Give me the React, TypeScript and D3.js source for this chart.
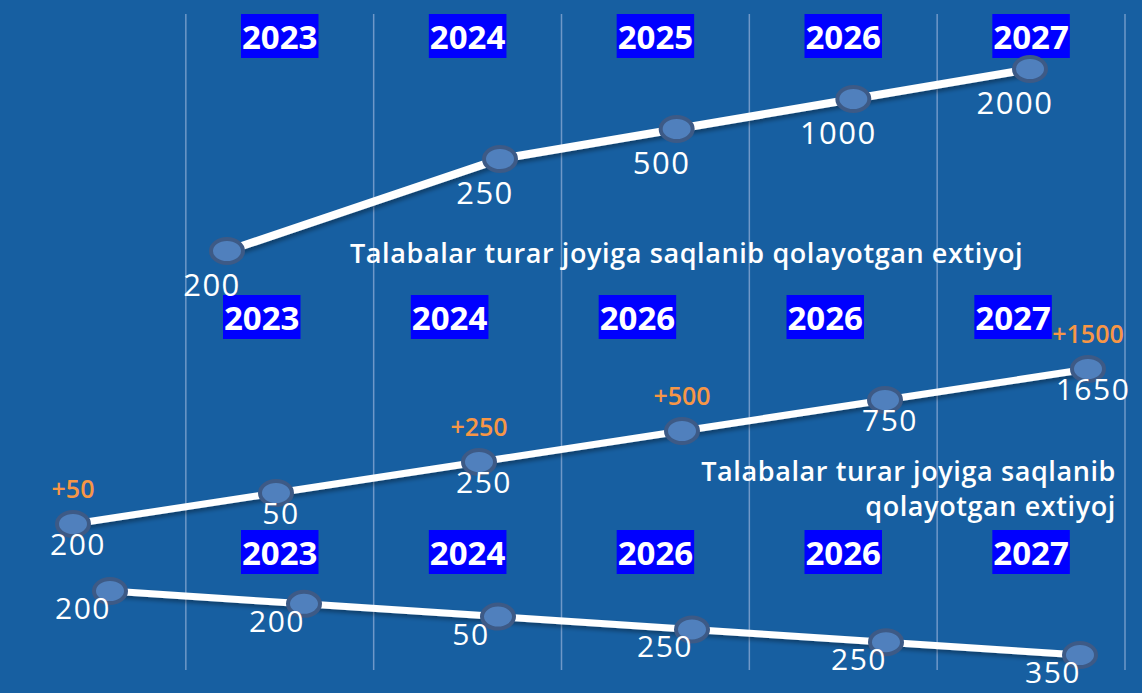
import React, { useRef, useEffect } from "react";
import * as d3 from "d3";

// year captions for each of the three panels
const topYears = ["2023", "2024", "2025", "2026", "2027"];
const midYears = ["2023", "2024", "2026", "2026", "2027"];
const lowYears = ["2023", "2024", "2026", "2026", "2027"];

// series values
const topValues = [200, 250, 500, 1000, 2000];
const midValues = [200, 50, 250, null, 750, 1650];
const midGains = [50, null, 250, 500, null, 1500];
const lowValues = [200, 200, 50, 250, 250, 350];

const caption = "Talabalar turar joyiga saqlanib qolayotgan extiyoj";
const captionLines = ["Talabalar turar joyiga saqlanib", "qolayotgan extiyoj"];

const columns = d3.range(6);

const App: React.FC = () => {
  const ref = useRef<SVGSVGElement | null>(null);

  useEffect(() => {
    if (!ref.current) return;
    const svg = d3.select(ref.current);
    svg.selectAll("*").remove();

    const width = 1142;
    const height = 693;
    const font = "'Open Sans', Lato, sans-serif";

    svg.attr("width", width).attr("height", height);

    const defs = svg.append("defs");
    defs
      .append("filter")
      .attr("id", "shadow")
      .attr("x", "-10%")
      .attr("y", "-50%")
      .attr("width", "120%")
      .attr("height", "200%")
      .append("feDropShadow")
      .attr("dx", 2)
      .attr("dy", 3)
      .attr("stdDeviation", 2)
      .attr("flood-color", "#000")
      .attr("flood-opacity", 0.35);

    svg.append("rect").attr("width", width).attr("height", height).attr("fill", "#175fa1");

    // column grid
    const col = d3.scaleBand<number>().domain(columns).range([-2, 1125]);
    svg
      .append("g")
      .selectAll("line")
      .data(columns)
      .join("line")
      .attr("x1", (d) => (col(d) || 0) + col.bandwidth())
      .attr("x2", (d) => (col(d) || 0) + col.bandwidth())
      .attr("y1", 14)
      .attr("y2", 670)
      .attr("stroke", "#6f98c8")
      .attr("stroke-width", 1.5);

    // year captions
    const yearRow = (years: string[], cy: number, shift: number) => {
      const g = svg.append("g");
      years.forEach((yr, i) => {
        const cx = (col(i + 1) || 0) + col.bandwidth() / 2 + shift;
        const item = g.append("g");
        const rect = item.append("rect").attr("fill", "#0000ff");
        const t = item
          .append("text")
          .attr("x", cx)
          .attr("y", cy)
          .attr("text-anchor", "middle")
          .attr("dominant-baseline", "central")
          .attr("font-family", font)
          .attr("font-weight", 700)
          .attr("font-size", 33)
          .attr("fill", "#fff")
          .text(yr);
        const b = (t.node() as SVGTextElement).getBBox();
        rect
          .attr("x", b.x - 1)
          .attr("y", cy - 22)
          .attr("width", b.width + 2)
          .attr("height", 44);
      });
    };
    yearRow(topYears, 36, 0);
    yearRow(midYears, 317, -18);
    yearRow(lowYears, 552, 0);

    type Pt = { i: number; v: number | null; gain?: number | null };

    const drawSeries = (
      pts: Pt[],
      x: d3.ScaleLinear<number, number>,
      y: d3.ScaleLinear<number, number>,
      lineWidth: number,
      label: { dx: number; dy: number; size: number }
    ) => {
      const g = svg.append("g");
      const line = d3
        .line<Pt>()
        .x((d) => x(d.i))
        .y((d) => y(d.i));
      g.append("path")
        .attr("d", line(pts) || "")
        .attr("fill", "none")
        .attr("stroke", "#fff")
        .attr("stroke-width", lineWidth)
        .attr("filter", "url(#shadow)");
      g.selectAll("ellipse")
        .data(pts)
        .join("ellipse")
        .attr("cx", (d) => x(d.i))
        .attr("cy", (d) => y(d.i))
        .attr("rx", 16)
        .attr("ry", 12)
        .attr("fill", "#5080bd")
        .attr("stroke", "#3d5a86")
        .attr("stroke-width", 4);
      g.selectAll("text.val")
        .data(pts.filter((d) => d.v !== null))
        .join("text")
        .attr("class", "val")
        .attr("x", (d) => x(d.i) + label.dx)
        .attr("y", (d) => y(d.i) + label.dy)
        .attr("text-anchor", "middle")
        .attr("font-family", font)
        .attr("font-weight", 500)
        .attr("font-size", label.size)
        .attr("letter-spacing", 1.5)
        .attr("fill", "#fff")
        .text((d) => String(d.v));
      g.selectAll("text.gain")
        .data(pts.filter((d) => d.gain != null))
        .join("text")
        .attr("class", "gain")
        .attr("x", (d) => x(d.i))
        .attr("y", (d) => y(d.i) - 26)
        .attr("text-anchor", "middle")
        .attr("font-family", font)
        .attr("font-weight", 600)
        .attr("font-size", 25)
        .attr("fill", "#f79646")
        .text((d) => "+" + d.gain);
    };

    // top panel: the first step climbs steeper than the rest
    drawSeries(
      topValues.map((v, i) => ({ i, v })),
      d3.scaleLinear().domain([0, 1, topValues.length - 1]).range([227, 500, 1030]),
      d3.scaleLinear().domain([0, 1, topValues.length - 1]).range([251, 159, 69]),
      8,
      { dx: -15, dy: 45, size: 31 }
    );

    drawSeries(
      midValues.map((v, i) => ({ i, v, gain: midGains[i] })),
      d3.scaleLinear().domain([0, midValues.length - 1]).range([73, 1088]),
      d3.scaleLinear().domain([0, midValues.length - 1]).range([524, 369]),
      7,
      { dx: 5, dy: 31, size: 30 }
    );

    drawSeries(
      lowValues.map((v, i) => ({ i, v })),
      d3.scaleLinear().domain([0, lowValues.length - 1]).range([110, 1080]),
      d3.scaleLinear().domain([0, lowValues.length - 1]).range([591, 655]),
      7,
      { dx: -27, dy: 28, size: 30 }
    );

    // captions
    svg
      .append("text")
      .attr("x", 350)
      .attr("y", 263)
      .attr("font-family", font)
      .attr("font-weight", 600)
      .attr("font-size", 27)
      .attr("letter-spacing", 0.6)
      .attr("fill", "#fff")
      .text(caption);

    svg
      .append("g")
      .selectAll("text")
      .data(captionLines)
      .join("text")
      .attr("x", 1116)
      .attr("y", (_, i) => 481 + i * 35)
      .attr("text-anchor", "end")
      .attr("font-family", font)
      .attr("font-weight", 600)
      .attr("font-size", 27)
      .attr("letter-spacing", 0.6)
      .attr("fill", "#fff")
      .text((d) => d);
  }, []);

  return (
    <div style={{ position: "absolute", left: 0, top: 0 }}>
      <svg ref={ref} style={{ display: "block" }} />
    </div>
  );
};

export default App;
